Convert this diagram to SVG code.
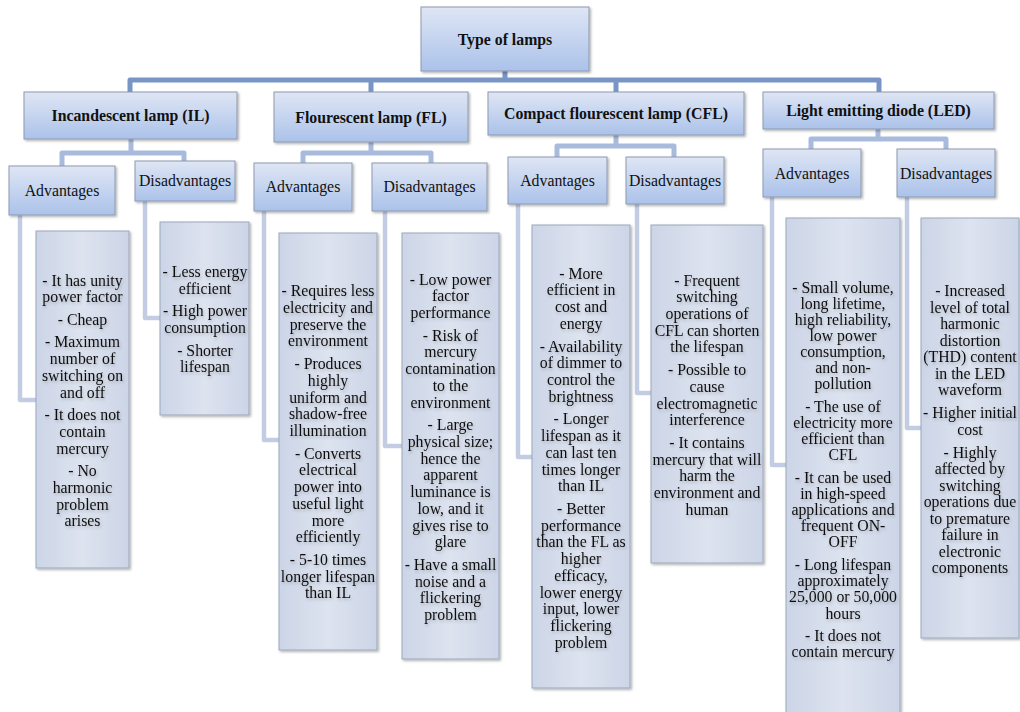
<svg xmlns="http://www.w3.org/2000/svg" width="1020" height="712" viewBox="0 0 1020 712">
<defs>
<linearGradient id="gLvl" x1="0" y1="0" x2="0" y2="1">
<stop offset="0" stop-color="#dfe6f4"/>
<stop offset="1" stop-color="#abc2ea"/>
</linearGradient>
<linearGradient id="gTxt" x1="0" y1="0" x2="1" y2="0">
<stop offset="0" stop-color="#ccd5e7"/>
<stop offset="0.5" stop-color="#dde3ef"/>
<stop offset="1" stop-color="#ccd5e7"/>
</linearGradient>
<filter id="sh" x="-10%" y="-10%" width="125%" height="125%">
<feDropShadow dx="1.5" dy="1.5" stdDeviation="1.2" flood-color="#000" flood-opacity="0.3"/>
</filter>
<filter id="tsh" x="-10%" y="-10%" width="130%" height="130%">
<feDropShadow dx="1" dy="2" stdDeviation="1.5" flood-color="#000" flood-opacity="0.2"/>
</filter>
</defs>
<style>
.lvl{fill:url(#gLvl);stroke:#8d99b0;stroke-width:1;filter:url(#sh)}
.tb{fill:url(#gTxt);stroke:#9ca7bb;stroke-width:1;filter:url(#sh)}
.t{font-family:"Liberation Serif","Times New Roman",serif;font-size:15.8px;fill:#111;text-anchor:middle}
.b{font-weight:bold}
.body{filter:url(#tsh)}
.c0{fill:none;stroke:#7995c6;stroke-width:5;stroke-linejoin:round}
.c1{fill:none;stroke:#a8bbdd;stroke-width:5;stroke-linejoin:round}
.c2{fill:none;stroke:#c2cde3;stroke-width:4.5;stroke-linejoin:round}
</style>
<rect width="1020" height="712" fill="#ffffff"/>

<g id="connectors">
<path class="c0" d="M505,71 V80 M130,92 V80 H879 V92 M371,80 V92 M616,80 V92"/>
<path class="c1" d="M131,139 V153 M62,166 V153 H184 V161"/>
<path class="c1" d="M371,142 V153 M303,163 V153 H431 V163"/>
<path class="c1" d="M616,135 V146 M557,157 V146 H674 V157"/>
<path class="c1" d="M878,129 V139 M811,149 V139 H946 V149"/>
<path class="c2" d="M20,215 V400 H36"/>
<path class="c2" d="M145,201 V318 H160"/>
<path class="c2" d="M264,211 V440 H279"/>
<path class="c2" d="M385,211 V446 H402"/>
<path class="c2" d="M518,204 V457 H532"/>
<path class="c2" d="M637,204 V393 H651"/>
<path class="c2" d="M772,197 V465 H786"/>
<path class="c2" d="M907,197 V428 H921"/>
</g>

<g id="root">
<rect class="lvl" x="421" y="7" width="168" height="64"/>
<text class="t b" x="505" y="45">Type of lamps</text>
</g>

<g id="il">
<rect class="lvl" x="24" y="92" width="213" height="47"/>
<text class="t b" x="130.5" y="121">Incandescent lamp (IL)</text>
</g>
<g id="fl">
<rect class="lvl" x="274" y="92" width="194" height="50"/>
<text class="t b" x="371" y="122.5">Flourescent lamp (FL)</text>
</g>
<g id="cfl">
<rect class="lvl" x="488" y="92" width="256" height="43"/>
<text class="t b" x="616" y="118.5">Compact flourescent lamp (CFL)</text>
</g>
<g id="led">
<rect class="lvl" x="763" y="92" width="231" height="37"/>
<text class="t b" x="878.5" y="115.5">Light emitting diode (LED)</text>
</g>

<g id="il-adv">
<rect class="lvl" x="9" y="166" width="106" height="49"/>
<text class="t" x="62" y="196">Advantages</text>
</g>
<g id="il-dis">
<rect class="lvl" x="135" y="161" width="100" height="40"/>
<text class="t" x="185" y="186">Disadvantages</text>
</g>
<g id="fl-adv">
<rect class="lvl" x="254" y="163" width="98" height="48"/>
<text class="t" x="303" y="192">Advantages</text>
</g>
<g id="fl-dis">
<rect class="lvl" x="372" y="163" width="115" height="48"/>
<text class="t" x="429.5" y="192">Disadvantages</text>
</g>
<g id="cfl-adv">
<rect class="lvl" x="508" y="157" width="99" height="47"/>
<text class="t" x="557.5" y="185.5">Advantages</text>
</g>
<g id="cfl-dis">
<rect class="lvl" x="626" y="157" width="98" height="47"/>
<text class="t" x="675" y="185.5">Disadvantages</text>
</g>
<g id="led-adv">
<rect class="lvl" x="763" y="149" width="98" height="48"/>
<text class="t" x="812" y="178.5">Advantages</text>
</g>
<g id="led-dis">
<rect class="lvl" x="897" y="149" width="98" height="48"/>
<text class="t" x="946" y="178.5">Disadvantages</text>
</g>

<g id="il-adv-text">
<rect class="tb" x="36" y="231" width="93" height="337"/>
<text class="t body" x="82.5" y="285.5"><tspan x="82.5">- It has unity</tspan><tspan x="82.5" dy="16.7">power factor</tspan><tspan x="82.5" dy="22.6">- Cheap</tspan><tspan x="82.5" dy="22.6">- Maximum</tspan><tspan x="82.5" dy="16.7">number of</tspan><tspan x="82.5" dy="16.7">switching on</tspan><tspan x="82.5" dy="16.7">and off</tspan><tspan x="82.5" dy="22.6">- It does not</tspan><tspan x="82.5" dy="16.7">contain</tspan><tspan x="82.5" dy="16.7">mercury</tspan><tspan x="82.5" dy="22.6">- No</tspan><tspan x="82.5" dy="16.7">harmonic</tspan><tspan x="82.5" dy="16.7">problem</tspan><tspan x="82.5" dy="16.7">arises</tspan></text>
</g>

<g id="il-dis-text">
<rect class="tb" x="160" y="222" width="89" height="193"/>
<text class="t body" x="205" y="277"><tspan x="205">- Less energy</tspan><tspan x="205" dy="16.7">efficient</tspan><tspan x="205" dy="22.6">- High power</tspan><tspan x="205" dy="16.7">consumption</tspan><tspan x="205" dy="22.6">- Shorter</tspan><tspan x="205" dy="16.7">lifespan</tspan></text>
</g>

<g id="fl-adv-text">
<rect class="tb" x="279" y="233" width="98" height="417"/>
<text class="t body" x="328" y="296.2"><tspan x="328">- Requires less</tspan><tspan x="328" dy="16.7">electricity and</tspan><tspan x="328" dy="16.7">preserve the</tspan><tspan x="328" dy="16.7">environment</tspan><tspan x="328" dy="22.8">- Produces</tspan><tspan x="328" dy="16.7">highly</tspan><tspan x="328" dy="16.7">uniform and</tspan><tspan x="328" dy="16.7">shadow-free</tspan><tspan x="328" dy="16.7">illumination</tspan><tspan x="328" dy="22.8">- Converts</tspan><tspan x="328" dy="16.7">electrical</tspan><tspan x="328" dy="16.7">power into</tspan><tspan x="328" dy="16.7">useful light</tspan><tspan x="328" dy="16.7">more</tspan><tspan x="328" dy="16.7">efficiently</tspan><tspan x="328" dy="22.8">- 5-10 times</tspan><tspan x="328" dy="16.7">longer lifespan</tspan><tspan x="328" dy="16.7">than IL</tspan></text>
</g>

<g id="fl-dis-text">
<rect class="tb" x="402" y="233" width="97" height="426"/>
<text class="t body" x="450.5" y="284.5"><tspan x="450.5">- Low power</tspan><tspan x="450.5" dy="16.7">factor</tspan><tspan x="450.5" dy="16.7">performance</tspan><tspan x="450.5" dy="22.8">- Risk of</tspan><tspan x="450.5" dy="16.7">mercury</tspan><tspan x="450.5" dy="16.7">contamination</tspan><tspan x="450.5" dy="16.7">to the</tspan><tspan x="450.5" dy="16.7">environment</tspan><tspan x="450.5" dy="22.8">- Large</tspan><tspan x="450.5" dy="16.7">physical size;</tspan><tspan x="450.5" dy="16.7">hence the</tspan><tspan x="450.5" dy="16.7">apparent</tspan><tspan x="450.5" dy="16.7">luminance is</tspan><tspan x="450.5" dy="16.7">low, and it</tspan><tspan x="450.5" dy="16.7">gives rise to</tspan><tspan x="450.5" dy="16.7">glare</tspan><tspan x="450.5" dy="22.8">- Have a small</tspan><tspan x="450.5" dy="16.7">noise and a</tspan><tspan x="450.5" dy="16.7">flickering</tspan><tspan x="450.5" dy="16.7">problem</tspan></text>
</g>

<g id="cfl-adv-text">
<rect class="tb" x="532" y="225" width="98" height="463"/>
<text class="t body" x="581" y="278.6"><tspan x="581">- More</tspan><tspan x="581" dy="16.7">efficient in</tspan><tspan x="581" dy="16.7">cost and</tspan><tspan x="581" dy="16.7">energy</tspan><tspan x="581" dy="22.8">- Availability</tspan><tspan x="581" dy="16.7">of dimmer to</tspan><tspan x="581" dy="16.7">control the</tspan><tspan x="581" dy="16.7">brightness</tspan><tspan x="581" dy="22.8">- Longer</tspan><tspan x="581" dy="16.7">lifespan as it</tspan><tspan x="581" dy="16.7">can last ten</tspan><tspan x="581" dy="16.7">times longer</tspan><tspan x="581" dy="16.7">than IL</tspan><tspan x="581" dy="22.8">- Better</tspan><tspan x="581" dy="16.7">performance</tspan><tspan x="581" dy="16.7">than the FL as</tspan><tspan x="581" dy="16.7">higher</tspan><tspan x="581" dy="16.7">efficacy,</tspan><tspan x="581" dy="16.7">lower energy</tspan><tspan x="581" dy="16.7">input, lower</tspan><tspan x="581" dy="16.7">flickering</tspan><tspan x="581" dy="16.7">problem</tspan></text>
</g>

<g id="cfl-dis-text">
<rect class="tb" x="651" y="225" width="112" height="338"/>
<text class="t body" x="707" y="285.5"><tspan x="707">- Frequent</tspan><tspan x="707" dy="16.7">switching</tspan><tspan x="707" dy="16.7">operations of</tspan><tspan x="707" dy="16.7">CFL can shorten</tspan><tspan x="707" dy="16.7">the lifespan</tspan><tspan x="707" dy="22.8">- Possible to</tspan><tspan x="707" dy="16.7">cause</tspan><tspan x="707" dy="16.7">electromagnetic</tspan><tspan x="707" dy="16.7">interference</tspan><tspan x="707" dy="22.8">- It contains</tspan><tspan x="707" dy="16.7">mercury that will</tspan><tspan x="707" dy="16.7">harm the</tspan><tspan x="707" dy="16.7">environment and</tspan><tspan x="707" dy="16.7">human</tspan></text>
</g>

<g id="led-adv-text">
<rect class="tb" x="786" y="218" width="114" height="500"/>
<text class="t body" x="843" y="292.5"><tspan x="843">- Small volume,</tspan><tspan x="843" dy="16.1">long lifetime,</tspan><tspan x="843" dy="16.1">high reliability,</tspan><tspan x="843" dy="16.1">low power</tspan><tspan x="843" dy="16.1">consumption,</tspan><tspan x="843" dy="16.1">and non-</tspan><tspan x="843" dy="16.1">pollution</tspan><tspan x="843" dy="22.8">- The use of</tspan><tspan x="843" dy="16.1">electricity more</tspan><tspan x="843" dy="16.1">efficient than</tspan><tspan x="843" dy="16.1">CFL</tspan><tspan x="843" dy="22.8">- It can be used</tspan><tspan x="843" dy="16.1">in high-speed</tspan><tspan x="843" dy="16.1">applications and</tspan><tspan x="843" dy="16.1">frequent ON-</tspan><tspan x="843" dy="16.1">OFF</tspan><tspan x="843" dy="22.8">- Long lifespan</tspan><tspan x="843" dy="16.1">approximately</tspan><tspan x="843" dy="16.1">25,000 or 50,000</tspan><tspan x="843" dy="16.1">hours</tspan><tspan x="843" dy="22.8">- It does not</tspan><tspan x="843" dy="16.1">contain mercury</tspan></text>
</g>

<g id="led-dis-text">
<rect class="tb" x="921" y="218" width="98" height="420"/>
<text class="t body" x="970" y="296"><tspan x="970">- Increased</tspan><tspan x="970" dy="16.5">level of total</tspan><tspan x="970" dy="16.5">harmonic</tspan><tspan x="970" dy="16.5">distortion</tspan><tspan x="970" dy="16.5">(THD) content</tspan><tspan x="970" dy="16.5">in the LED</tspan><tspan x="970" dy="16.5">waveform</tspan><tspan x="970" dy="23">- Higher initial</tspan><tspan x="970" dy="16.5">cost</tspan><tspan x="970" dy="23">- Highly</tspan><tspan x="970" dy="16.5">affected by</tspan><tspan x="970" dy="16.5">switching</tspan><tspan x="970" dy="16.5">operations due</tspan><tspan x="970" dy="16.5">to premature</tspan><tspan x="970" dy="16.5">failure in</tspan><tspan x="970" dy="16.5">electronic</tspan><tspan x="970" dy="16.5">components</tspan></text>
</g>
</svg>
